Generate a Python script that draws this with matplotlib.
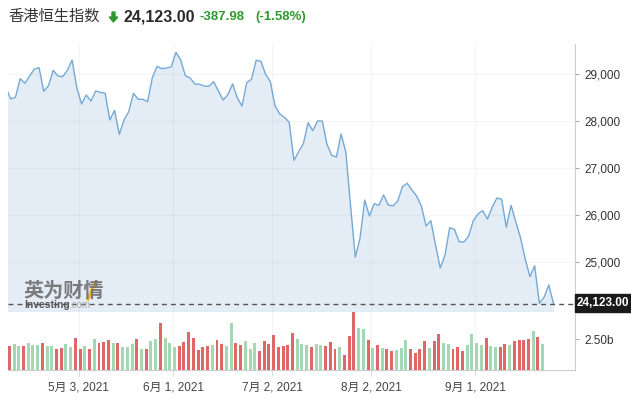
import matplotlib
matplotlib.use('Agg')
import matplotlib.pyplot as plt
from matplotlib.patches import FancyArrow, Rectangle
from matplotlib.ticker import FuncFormatter

plt.rcParams['font.family'] = ['Liberation Sans', 'Noto Sans CJK SC', 'DejaVu Sans']

# daily close, trading days from 9 Apr 2021 (index 0) to 24 Sep 2021 (index 116)
close = [28703, 28469, 28505, 28900, 28803, 28958, 29106, 29134, 28633, 28752,
         29079, 28958, 28943, 29079, 29297, 28709, 28363, 28554, 28427, 28639,
         28610, 28590, 28023, 28229, 27720, 28023, 28200, 28590, 28463, 28463,
         28412, 28921, 29163, 29113, 29127, 29149, 29461, 29297, 28964, 28915,
         28788, 28781, 28745, 28739, 28837, 28639, 28448, 28558, 28788, 28497,
         28321, 28815, 28887, 29291, 29270, 28994, 28837, 28321, 28151, 28081,
         27975, 27168, 27350, 27520, 27966, 27796, 28002, 28002, 27507, 27274,
         27238, 27726, 27338, 26200, 25109, 25512, 26325, 25985, 26246, 26212,
         26431, 26219, 26198, 26304, 26608, 26680, 26537, 26410, 26198, 25773,
         25886, 25370, 24881, 25150, 25737, 25703, 25440, 25433, 25555, 25886,
         26028, 26098, 25922, 26170, 26367, 26340, 25746, 26213, 25865, 25525,
         25073, 24697, 24930, 24132, 24259, 24520, 24123]

# volume in billions, trading days index 1..114
volume = [1.96, 2.07, 1.91, 1.91, 2.15, 1.99, 1.99, 2.15, 1.91, 1.91,
          1.72, 1.80, 2.07, 1.83, 2.55, 1.67, 1.91, 1.67, 2.47, 2.15,
          2.28, 2.39, 2.15, 2.15, 1.83, 1.83, 2.07, 2.47, 1.67, 1.67,
          2.31, 2.47, 3.76, 2.55, 2.15, 1.83, 1.91, 2.23, 3.04, 2.55,
          1.59, 1.83, 1.91, 1.99, 2.39, 2.07, 1.91, 3.76, 2.15, 1.99,
          2.31, 1.67, 2.15, 1.51, 2.31, 2.07, 2.80, 1.83, 1.91, 1.99,
          2.96, 2.47, 2.07, 2.03, 1.83, 2.07, 1.99, 1.91, 2.23, 1.67,
          1.83, 1.18, 2.71, 4.65, 3.36, 3.28, 2.39, 1.75, 1.99, 1.75,
          1.67, 1.51, 1.59, 1.75, 2.39, 1.67, 1.34, 1.67, 2.31, 1.75,
          2.31, 2.88, 2.15, 2.07, 1.67, 1.83, 1.51, 1.99, 2.88, 2.15,
          1.99, 2.55, 1.91, 1.83, 1.83, 2.07, 1.99, 2.31, 2.39, 2.39,
          2.47, 3.12, 2.63, 2.07]
vol_dir = ('RGGRGGGRGG' 'RRGGRRGRGR' 'RRGRGGGRGR' 'GGRGGGRRRR'
           'RRRGRRGGRR' 'GGGRRRRRRR' 'RGGGRGGRRR' 'GRRRGGRGRG'
           'RRGGGRRRRG' 'RRGGRRRGGG' 'GRGGRRGRRR' 'RGRG')

tick_idx = [16, 36, 57, 78, 100]
tick_labels = ['5月 3, 2021', '6月 1, 2021', '7月 2, 2021', '8月 2, 2021', '9月 1, 2021']
price_ticks = [25000, 26000, 27000, 28000, 29000]
last_price = 24123.00

line_c = '#74a9d6'
fill_c = '#e4edf5'
red = '#e06767'
green = '#a4d8b4'
grid_c = '#6f8194'

W, H = 631, 398
fig = plt.figure(figsize=(W / 100, H / 100), dpi=100)

x0, x1 = 8 / W, 575 / W
ax = fig.add_axes([x0, (H - 312) / H, x1 - x0, 268 / H])
axv = fig.add_axes([x0, (H - 370) / H, x1 - x0, 58 / H])

xs = list(range(len(close)))
xlim = (0.42, 120.55)
ylo, yhi = 23947, 29637

ax.fill_between(xs, close, ylo, color=fill_c, lw=0, zorder=1)
ax.plot(xs, close, color=line_c, lw=1.0, zorder=3)
ax.axhline(last_price, color='#555555', lw=1, dashes=(3.5, 3), zorder=4)
ax.set_xlim(*xlim)
ax.set_ylim(ylo, yhi)
ax.yaxis.tick_right()
ax.set_yticks(price_ticks)
ax.yaxis.set_major_formatter(FuncFormatter(lambda v, p: f'{v:,.0f}'))
ax.tick_params(axis='y', length=3, width=0.8, color='#aaaaaa', pad=4,
               labelsize=8.5, labelcolor='#333333')
ax.set_xticks([t - 0.6 for t in tick_idx])
ax.tick_params(axis='x', length=0, labelbottom=False)
ax.grid(True, color=grid_c, alpha=0.08, lw=0.8, zorder=2)
for s in ['top', 'left']:
    ax.spines[s].set_visible(False)
ax.spines['right'].set_color('#cccccc')
ax.spines['bottom'].set_color('#d5dde5')
ax.spines['bottom'].set_linewidth(0.8)

vx = [i - 0.3 for i in range(1, len(volume) + 1)]
vcol = [red if c == 'R' else green for c in vol_dir]
axv.bar(vx, volume, width=0.63, color=vcol, lw=0, zorder=3)
axv.set_xlim(*xlim)
axv.set_ylim(0, 4.68)
axv.yaxis.tick_right()
axv.set_yticks([2.5])
axv.set_yticklabels(['2.50b'])
axv.tick_params(axis='y', length=3, width=0.8, color='#aaaaaa', pad=4,
                labelsize=8.5, labelcolor='#333333')
axv.set_xticks([t - 0.6 for t in tick_idx])
axv.set_xticklabels(tick_labels)
axv.tick_params(axis='x', length=4, color='#dddddd', pad=4,
                labelsize=8.5, labelcolor='#444444')
axv.grid(True, axis='x', color=grid_c, alpha=0.08, lw=0.8, zorder=1)
for s in ['top', 'left']:
    axv.spines[s].set_visible(False)
axv.spines['right'].set_color('#cccccc')
axv.spines['bottom'].set_color('#cccccc')

# header
fig.text(8 / W, 1 - 17 / H, '香港恒生指数', fontsize=11, color='#333333', va='center')
fig.patches.append(FancyArrow(1.135, (H - 12) / 100, 0, -0.10, width=0.03,
                              head_width=0.085, head_length=0.05,
                              length_includes_head=True, color='#2e9a2e',
                              transform=fig.dpi_scale_trans, figure=fig))
fig.text(123 / W, 1 - 17 / H, '24,123.00', fontsize=11.5, fontweight='bold',
         color='#2b2b2b', va='center')
fig.text(200 / W, 1 - 17 / H, '-387.98', fontsize=9.5, fontweight='bold',
         color='#2e9a2e', va='center')
fig.text(255 / W, 1 - 17 / H, '(-1.58%)', fontsize=9.5, fontweight='bold',
         color='#2e9a2e', va='center')

# watermark
fig.text(23 / W, 1 - 291 / H, '英为财情', fontsize=14.5, fontweight='bold',
         color='#6f6f6f', va='center', alpha=0.9, zorder=5)
fig.lines.append(plt.Line2D([88 / W, 95 / W], [1 - 299 / H, 1 - 283 / H],
                            color='#f2b632', lw=2.4, transform=fig.transFigure))
fig.text(24 / W, 1 - 305 / H, 'Investing', fontsize=7.5, fontweight='bold',
         color='#555555', va='center')
fig.text(69 / W, 1 - 305 / H, '.com', fontsize=7, color='#aaaaaa', va='center')

# last price label box
fig.patches.append(Rectangle((575 / W, 1 - 312 / H), 60 / W, 18 / H,
                             color='#1a1a1a', transform=fig.transFigure, figure=fig))
fig.text(577 / W, 1 - 303 / H, '24,123.00', fontsize=8.5, fontweight='bold',
         color='white', va='center')

fig.savefig('out.png', dpi=100, facecolor='white')
